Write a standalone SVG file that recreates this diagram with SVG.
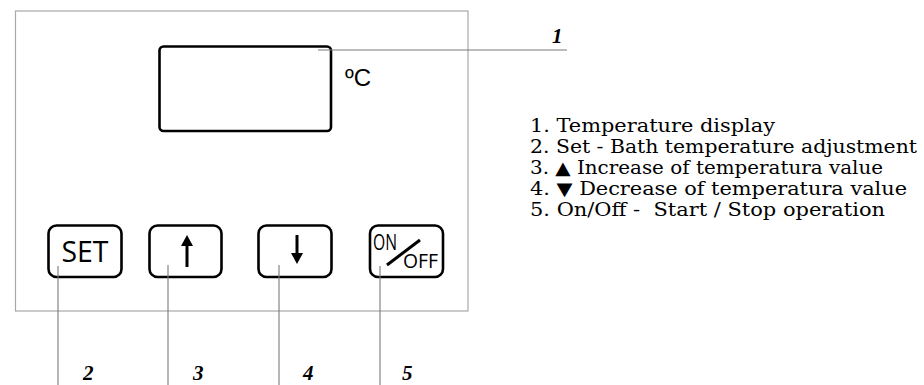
<svg xmlns="http://www.w3.org/2000/svg" width="924" height="385" viewBox="0 0 924 385">
<style>
.panel{fill:#fff;stroke:#a8a8a8;stroke-width:1.2}
.disp{fill:none;stroke:#000;stroke-width:2.6}
.btn{fill:none;stroke:#000;stroke-width:2.6}
.lead{stroke:#7a7a7a;stroke-width:1.1;fill:none}
.ico{stroke:#000;stroke-width:3;fill:none}
.btxt{font-family:"Open Sans","DejaVu Sans",sans-serif;fill:#000}
.num{font-family:"Liberation Serif","DejaVu Serif",serif;font-style:italic;font-weight:bold;font-size:21px;fill:#000}
.leg{font-family:"DejaVu Serif","Liberation Serif",serif;font-size:17.8px;fill:#000;white-space:pre}
.unit{font-family:"Liberation Sans",Arial,sans-serif;font-size:24px;fill:#000}
</style>
<rect width="924" height="385" fill="#fff"/>
<g id="panel">
<rect class="panel" x="15.5" y="11" width="452.5" height="300"/>
</g>
<g id="display">
<rect class="disp" x="159.5" y="46.5" width="171.5" height="84.5" rx="4"/>
<text class="unit" x="345" y="86">ºC</text>
</g>
<g id="btn-set">
<rect class="btn" x="48.5" y="225.5" width="73" height="51.5" rx="8"/>
<text class="btxt" x="85" y="262" font-size="29" text-anchor="middle" textLength="47" lengthAdjust="spacingAndGlyphs">SET</text>
</g>
<g id="btn-up">
<rect class="btn" x="149.5" y="225.5" width="72" height="51.5" rx="8"/>
<line class="ico" x1="187" y1="243" x2="187" y2="267"/>
<polygon points="187,235 181,246 193,246" fill="#000"/>
</g>
<g id="btn-down">
<rect class="btn" x="258.5" y="225.5" width="73" height="51.5" rx="8"/>
<line class="ico" x1="297" y1="235" x2="297" y2="256"/>
<polygon points="297,264 291,253 303,253" fill="#000"/>
</g>
<g id="btn-onoff">
<rect class="btn" x="370" y="225.5" width="73" height="51.5" rx="8"/>
<text class="btxt" x="373" y="250" font-size="22" textLength="24" lengthAdjust="spacingAndGlyphs">ON</text>
<line class="ico" x1="387" y1="265" x2="420" y2="240"/>
<text class="btxt" x="403" y="268" font-size="20" textLength="35" lengthAdjust="spacingAndGlyphs">OFF</text>
</g>
<g id="connectors">
<line class="lead" x1="318" y1="50" x2="567" y2="50"/>
<line class="lead" x1="58" y1="266" x2="58" y2="385"/>
<line class="lead" x1="168" y1="265" x2="168" y2="385"/>
<line class="lead" x1="279" y1="265" x2="279" y2="385"/>
<line class="lead" x1="380" y1="266" x2="380" y2="385"/>
</g>
<g id="labels">
<text class="num" x="552" y="43">1</text>
<text class="num" x="83" y="380">2</text>
<text class="num" x="193" y="380">3</text>
<text class="num" x="303" y="380">4</text>
<text class="num" x="402" y="380">5</text>
</g>
<g id="legend">
<text class="leg" x="530" y="132" textLength="245" lengthAdjust="spacingAndGlyphs">1. Temperature display</text>
<text class="leg" x="530" y="153" textLength="387" lengthAdjust="spacingAndGlyphs">2. Set - Bath temperature adjustment</text>
<text class="leg" x="530" y="174" textLength="353" lengthAdjust="spacingAndGlyphs">3. ▲ Increase of temperatura value</text>
<text class="leg" x="530" y="195" textLength="377" lengthAdjust="spacingAndGlyphs">4. ▼ Decrease of temperatura value</text>
<text class="leg" x="530" y="216" textLength="355" lengthAdjust="spacingAndGlyphs" xml:space="preserve">5. On/Off -  Start / Stop operation</text>
</g>
</svg>
